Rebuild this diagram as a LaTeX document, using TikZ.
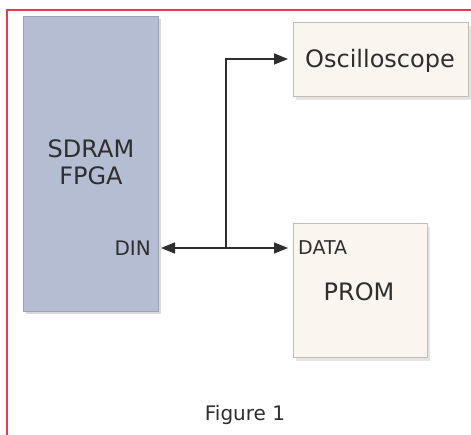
\documentclass[tikz,border=0pt]{standalone}
\usepackage{fontspec}
\setmainfont{DejaVu Sans}
\usetikzlibrary{arrows.meta}
\definecolor{fpgafill}{HTML}{B5BDD3}
\definecolor{fpgaedge}{HTML}{9AA2B8}
\definecolor{boxfill}{HTML}{FBF5EF}
\definecolor{boxedge}{HTML}{C4BDB6}
\definecolor{ink}{HTML}{2E2E2E}
\definecolor{frame}{HTML}{E8394F}
\begin{document}
\begin{tikzpicture}[x=1pt,y=-1pt,
  lbl/.style={text=ink, inner sep=0pt},
  wire/.style={draw=ink, line width=1.5pt},
  tip/.style={-{Triangle[length=14pt,width=11pt]}}]
\useasboundingbox (0,0) rectangle (471,435);
\fill[white] (0,0) rectangle (471,435);
% red frame
\draw[frame, line width=1.3pt] (7,435) -- (7,10) -- (471,10);
% boxes
\fill[black!15] (26,19) rectangle (161,314);
\filldraw[fill=fpgafill, draw=fpgaedge, line width=0.8pt] (23,16) rectangle (158,311);
\fill[black!10] (296,26) rectangle (471,100);
\filldraw[fill=boxfill, draw=boxedge, line width=1pt] (293,23) rectangle (468,97);
\node[lbl, font=\fontsize{24}{28}\selectfont] (osc) at (380,61) {Oscilloscope};
\fill[black!10] (296,227) rectangle (430,361);
\filldraw[fill=boxfill, draw=boxedge, line width=1pt] (293,224) rectangle (427,358);
\node[lbl, font=\fontsize{24}{28}\selectfont] (prom) at (359,292) {PROM};
\node[lbl, font=\fontsize{24}{28}\selectfont, align=center] (fpgat) at (91,162) {SDRAM\\[-1pt]FPGA};
\node[lbl, font=\fontsize{20}{24}\selectfont, anchor=east] (din) at (151,248) {DIN};
\node[lbl, font=\fontsize{19}{24}\selectfont, anchor=west] (data) at (298,248) {DATA};
\node[lbl, font=\fontsize{20}{24}\selectfont] (fig) at (245,415) {Figure 1};
% connectors
\coordinate (j) at (226,248);
\coordinate (top) at (226,59);
\coordinate (oscin) at (288,59);
\coordinate (promin) at (288,248);
\coordinate (dinin) at (161,248);
\draw[wire, tip] (j) -- (dinin);
\draw[wire, tip] (j) -- (promin);
\draw[wire, tip] (j) -- (top) -- (oscin);
\end{tikzpicture}
\end{document}
